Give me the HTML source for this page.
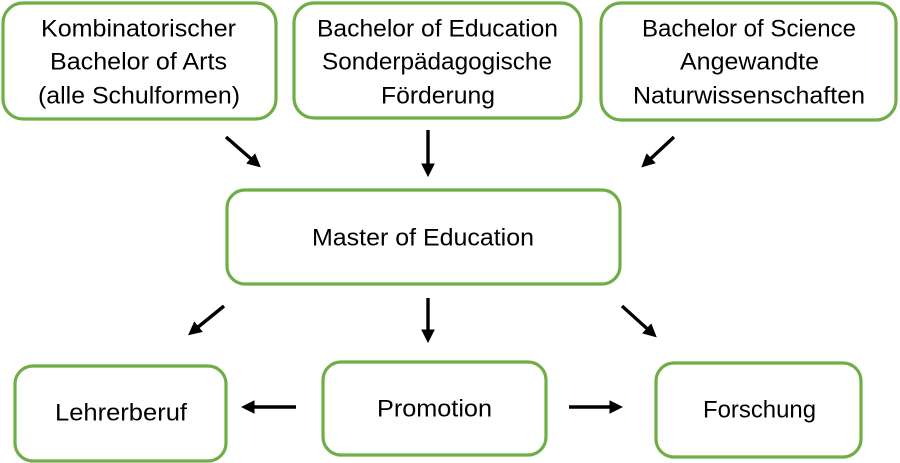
<!DOCTYPE html>
<html><head><meta charset="utf-8"><style>html,body{margin:0;padding:0;background:#fff}svg{display:block}</style></head>
<body>
<svg width="900" height="463" viewBox="0 0 900 463" xmlns="http://www.w3.org/2000/svg">
<defs><marker id="a" markerWidth="4" markerHeight="4" refX="2.5" refY="2" orient="auto" markerUnits="strokeWidth"><path d="M0,0 L4,2 L0,4 z" fill="#000"/></marker></defs>
<g fill="#fff" stroke="#70ad47" stroke-width="3.2">
<rect x="3" y="3" width="273" height="116" rx="20"/>
<rect x="294" y="3" width="287" height="115" rx="20"/>
<rect x="601" y="3" width="295" height="117" rx="20"/>
<rect x="227" y="190" width="393" height="94" rx="18"/>
<rect x="15" y="366" width="211" height="95" rx="18"/>
<rect x="323" y="362" width="223" height="93" rx="18"/>
<rect x="656" y="363" width="205" height="94" rx="18"/>
</g>
<g stroke="#000" stroke-width="3.4" marker-end="url(#a)">
<line x1="226" y1="137" x2="257" y2="164"/>
<line x1="428" y1="130" x2="428" y2="172"/>
<line x1="674" y1="137" x2="645" y2="164"/>
<line x1="224" y1="306" x2="192" y2="332"/>
<line x1="428" y1="298" x2="428" y2="338"/>
<line x1="622" y1="306" x2="653" y2="334"/>
<line x1="296" y1="407" x2="246" y2="407"/>
<line x1="569" y1="407" x2="618" y2="407"/>
</g>
<g font-family="Liberation Sans, sans-serif" font-size="24" fill="#000" dominant-baseline="central">
<text x="41" y="29" textLength="195" lengthAdjust="spacingAndGlyphs">Kombinatorischer</text>
<text x="50" y="62" textLength="177" lengthAdjust="spacingAndGlyphs">Bachelor of Arts</text>
<text x="38" y="96" textLength="202" lengthAdjust="spacingAndGlyphs">(alle Schulformen)</text>
<text x="317" y="29" textLength="241" lengthAdjust="spacingAndGlyphs">Bachelor of Education</text>
<text x="322" y="62" textLength="230" lengthAdjust="spacingAndGlyphs">Sonderpädagogische</text>
<text x="381" y="96" textLength="114" lengthAdjust="spacingAndGlyphs">Förderung</text>
<text x="642" y="29" textLength="214" lengthAdjust="spacingAndGlyphs">Bachelor of Science</text>
<text x="680" y="62" textLength="139" lengthAdjust="spacingAndGlyphs">Angewandte</text>
<text x="633" y="96" textLength="232" lengthAdjust="spacingAndGlyphs">Naturwissenschaften</text>
<text x="312" y="238" textLength="222" lengthAdjust="spacingAndGlyphs">Master of Education</text>
<text x="55" y="413" textLength="132" lengthAdjust="spacingAndGlyphs">Lehrerberuf</text>
<text x="377" y="409" textLength="115" lengthAdjust="spacingAndGlyphs">Promotion</text>
<text x="703" y="410" textLength="113" lengthAdjust="spacingAndGlyphs">Forschung</text>
</g>
</svg>
</body></html>
